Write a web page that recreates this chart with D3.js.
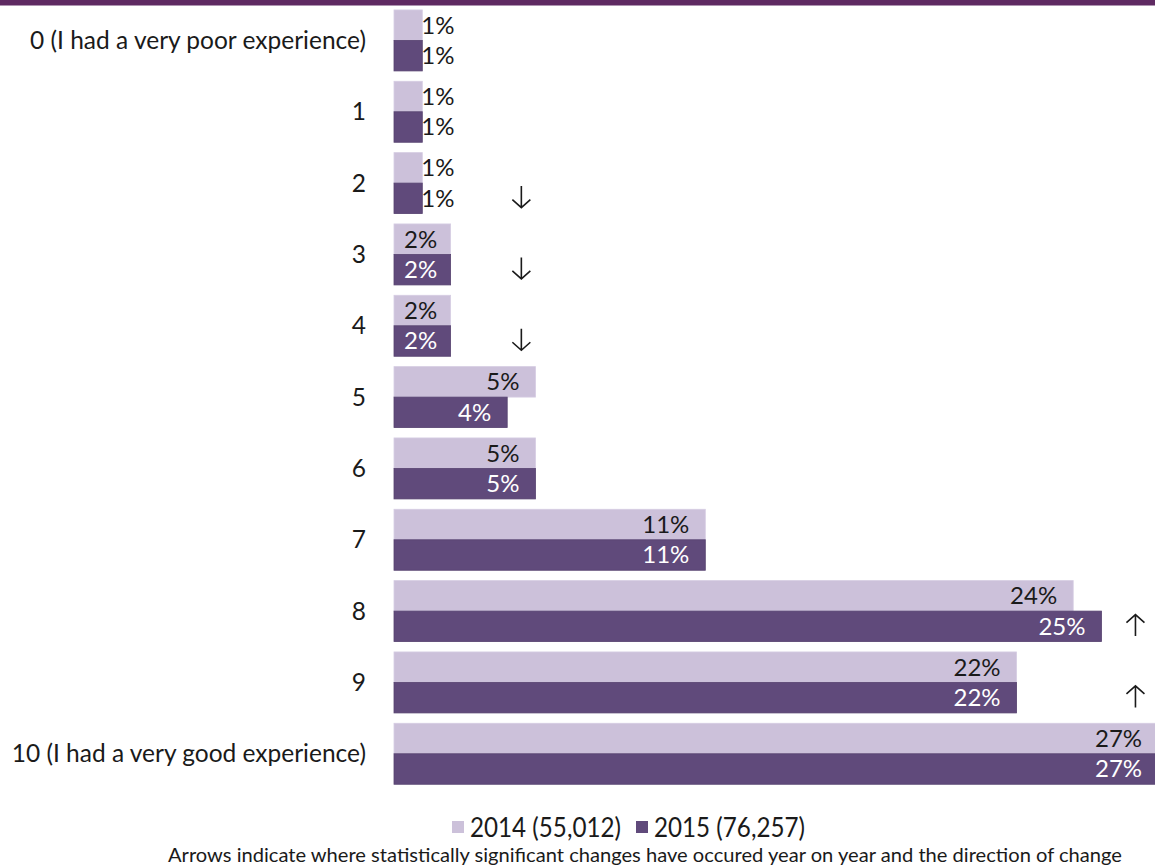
<!DOCTYPE html>
<html>
<head>
<meta charset="utf-8">
<script src="https://cdn.jsdelivr.net/npm/d3@7"></script>
<style>
  html, body { margin: 0; padding: 0; background: #fff; }
  svg { display: block; font-family: Lato, "Open Sans", sans-serif; }
</style>
</head>
<body>
<svg id="chart" width="1155" height="867"></svg>
<script>
// Rating scale categories (0 to 10)
const categories = [
  "0 (I had a very poor experience)", "1", "2", "3", "4", "5", "6", "7", "8", "9",
  "10 (I had a very good experience)"
];
// Share of respondents per rating, in percent
const values2014 = [1, 1, 1, 2, 2, 5, 5, 11, 24, 22, 27];
const values2015 = [1, 1, 1, 2, 2, 4, 5, 11, 25, 22, 27];
// Series names shown in the legend
const seriesNames = ["2014 (55,012)", "2015 (76,257)"];
// Statistically significant year-on-year changes
const changeCategories = ["2", "3", "4", "8", "9"];
const changeDirections = ["down", "down", "down", "up", "up"];
const footnote = "Arrows indicate where statistically significant changes have occured year on year and the direction of change";

const W = 1155, H = 867;
const colors = ["#ccc1da", "#604a7b"];
const ink = "#1a1a1a";
const svg = d3.select("#chart");

// Top rule
svg.append("rect").attr("x", 0).attr("y", 0).attr("width", W).attr("height", 5.5).attr("fill", "#5f2a62");

const x = d3.scaleLinear().domain([0, 27]).range([394, 394 + 27 * 28.3]);
const y = d3.scaleBand().domain(categories).range([4.8, 789.4]).paddingInner(0.145).paddingOuter(0.072);
const ySub = d3.scaleBand().domain([0, 1]).range([0, y.bandwidth()]);

const rows = categories.map((c, i) => ({ cat: c, vals: [values2014[i], values2015[i]] }));

const groups = svg.append("g").selectAll("g.row").data(rows).join("g")
  .attr("class", "row")
  .attr("transform", d => `translate(0,${y(d.cat)})`);

const cells = groups.selectAll("g.bar").data(d => d.vals.map((v, s) => ({ v, s }))).join("g").attr("class", "bar");

cells.append("rect")
  .attr("x", x(0))
  .attr("y", d => ySub(d.s))
  .attr("width", d => x(d.v) - x(0))
  .attr("height", ySub.bandwidth())
  .attr("fill", d => colors[d.s])
  .attr("stroke", d => d.s ? "#574370" : "#d6cde3")
  .attr("stroke-width", 0.8);

// Value labels: inside end where they fit, else just past the bar end
cells.append("text")
  .text(d => d.v + "%")
  .attr("font-size", 24)
  .attr("dy", "0.35em")
  .attr("y", d => ySub(d.s) + ySub.bandwidth() / 2)
  .each(function (d) {
    const t = d3.select(this);
    const w = this.getComputedTextLength();
    const x0 = x(0), x1 = x(d.v);
    if (x1 - x0 < w + 6) {
      t.attr("x", x1 - 1).attr("fill", ink);
    } else {
      const start = Math.max(x1 - 16 - w, x0 + 10);
      t.attr("x", start).attr("fill", d.s ? "#ffffff" : ink);
    }
  });

// Category labels
svg.append("g").selectAll("text").data(categories).join("text")
  .attr("x", 366)
  .attr("y", d => y(d) + y.bandwidth() / 2)
  .attr("dy", "0.35em")
  .attr("text-anchor", "end")
  .attr("font-size", 24.5)
  .attr("fill", ink)
  .text(d => d);

// Change arrows (thin shaft with an open chevron head)
const arrows = changeCategories.map((c, i) => ({ c, dir: changeDirections[i] }));
svg.append("g").selectAll("path").data(arrows).join("path")
  .attr("transform", d => {
    const cx = d.dir === "down" ? x(4.5) : x(26.2);
    const cy = y(d.c) + y.bandwidth() / 2 + 14;
    return `translate(${cx},${cy})`;
  })
  .attr("d", d => d.dir === "down"
    ? "M0,-11V10.5M-9,2.5L0,10.5L9,2.5"
    : "M0,11V-10.5M-9,-2.5L0,-10.5L9,-2.5")
  .attr("fill", "none")
  .attr("stroke", ink)
  .attr("stroke-width", 1.6);

// Legend
const legend = svg.append("g");
const legendX = [452, 636];
seriesNames.forEach((name, i) => {
  legend.append("rect").attr("x", legendX[i]).attr("y", 821).attr("width", 12).attr("height", 12).attr("fill", colors[i]);
  legend.append("text").attr("x", legendX[i] + 18).attr("y", 828).attr("dy", "0.35em")
    .attr("font-size", 26).attr("fill", ink)
    .attr("textLength", 151).attr("lengthAdjust", "spacingAndGlyphs")
    .text(name);
});

// Footnote
svg.append("text")
  .attr("x", 645).attr("y", 855).attr("dy", "0.35em")
  .attr("text-anchor", "middle")
  .attr("font-size", 20).attr("fill", ink)
  .attr("textLength", 954).attr("lengthAdjust", "spacingAndGlyphs")
  .text(footnote);
</script>
</body>
</html>
